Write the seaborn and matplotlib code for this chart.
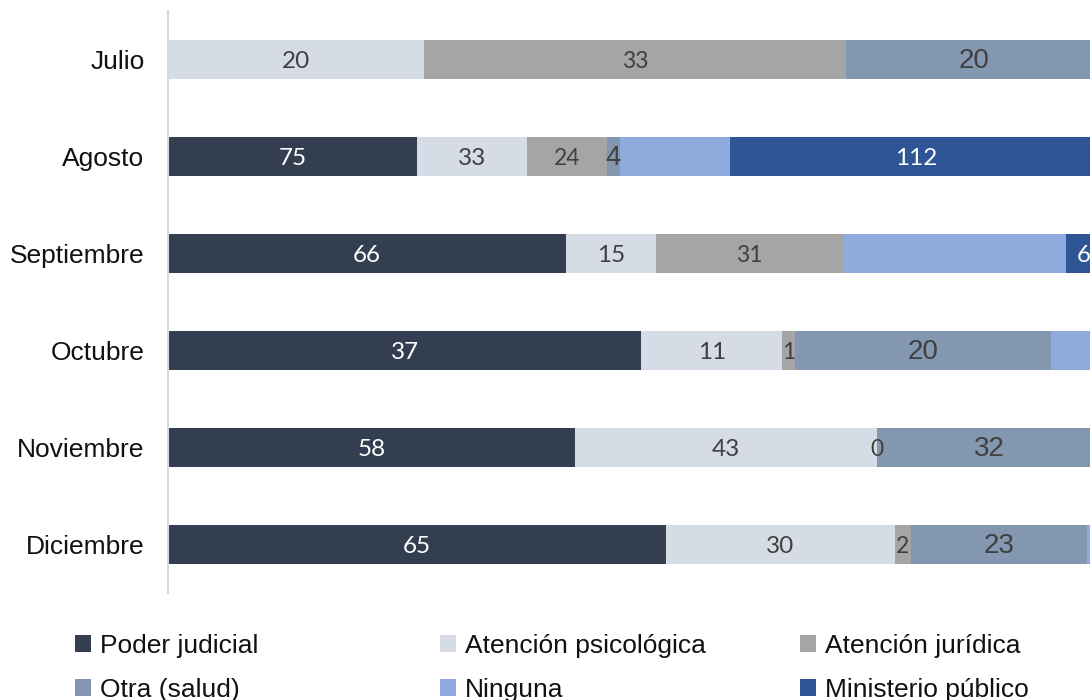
import numpy as np
import pandas as pd
import matplotlib
matplotlib.use("Agg")
import matplotlib.pyplot as plt
from matplotlib.patches import Patch
import seaborn as sns

# Data (counts per month, shown as 100% stacked bars)
months = ["Julio", "Agosto", "Septiembre", "Octubre", "Noviembre", "Diciembre"]
poder_judicial = [np.nan, 75, 66, 37, 58, 65]
atencion_psicologica = [20, 33, 15, 11, 43, 30]
atencion_juridica = [33, 24, 31, 1, 0, 2]
otra_salud = [20, 4, np.nan, 20, 32, 23]
ninguna = [np.nan, 33, 37, 4, 0, 2]
ministerio_publico = [np.nan, 112, 6, 0, 0, 0]

series_names = ["Poder judicial", "Atención psicológica", "Atención jurídica",
                "Otra (salud)", "Ninguna", "Ministerio público"]
series_values = [poder_judicial, atencion_psicologica, atencion_juridica,
                 otra_salud, ninguna, ministerio_publico]
colors = ["#333F50", "#D6DCE5", "#A5A5A5", "#8497B0", "#8FAADC", "#2F5597"]

df = pd.DataFrame(dict(zip(series_names, series_values)), index=months)
vals = df.fillna(0)
pct = vals.div(vals.sum(axis=1), axis=0) * 100
cum = pct.cumsum(axis=1)

sns.set_style("white")
plt.rcParams["font.family"] = ["Liberation Sans", "DejaVu Sans"]

fig = plt.figure(figsize=(10.9, 7), dpi=100)
ax = fig.add_axes([168 / 1090, 107 / 700, 934 / 1090, 582 / 700])

# draw cumulative bars from the last series to the first so they overlay into a stack
for name, color in reversed(list(zip(series_names, colors))):
    sns.barplot(x=cum[name].values, y=months, orient="h", color=color,
                saturation=1, width=0.4, linewidth=0, ax=ax)

ax.set_xlim(0, 100)
ax.set_ylim(5.5, -0.5)
ax.set_xlabel("")
ax.set_ylabel("")
ax.set_xticks([])
ax.tick_params(axis="y", length=0, pad=17, labelsize=19, labelcolor="#111111")
for side in ["top", "right", "bottom"]:
    ax.spines[side].set_visible(False)
ax.spines["left"].set_color("#D9D9D9")
ax.spines["left"].set_linewidth(1.5)

# segment labels (Ninguna has none; zeros only shown for jurídica)
label_style = {
    "Poder judicial": dict(color="white", family="Lato", size=17.5),
    "Atención psicológica": dict(color="#404040", family="Lato", size=17.5),
    "Atención jurídica": dict(color="#404040", family="Lato", size=16.5),
    "Otra (salud)": dict(color="#404040", family="Liberation Sans", size=20),
    "Ministerio público": dict(color="white", family="Lato", size=17.5),
}
for i, m in enumerate(months):
    for name in series_names:
        if name not in label_style:
            continue
        v = df.loc[m, name]
        if pd.isna(v) or (v == 0 and name != "Atención jurídica"):
            continue
        center = cum.loc[m, name] - pct.loc[m, name] / 2
        st = label_style[name]
        ax.text(center, i + 0.02, f"{int(v)}", ha="center", va="center",
                color=st["color"], fontsize=st["size"], family=st["family"])

# legend: three columns placed like the original
col_x = [75, 440, 800]
for c in range(3):
    items = [c, c + 3]
    handles = [Patch(facecolor=colors[k], edgecolor="none") for k in items]
    labels = [series_names[k] for k in items]
    leg = fig.legend(handles, labels, loc="center left",
                     bbox_to_anchor=(col_x[c] / 1090, (700 - 668) / 700),
                     frameon=False, fontsize=19, handlelength=0.6, handleheight=0.6,
                     handletextpad=0.35, labelspacing=0.75, borderpad=0, borderaxespad=0)
    for t in leg.get_texts():
        t.set_color("#111111")

fig.savefig("out.png", dpi=100)
